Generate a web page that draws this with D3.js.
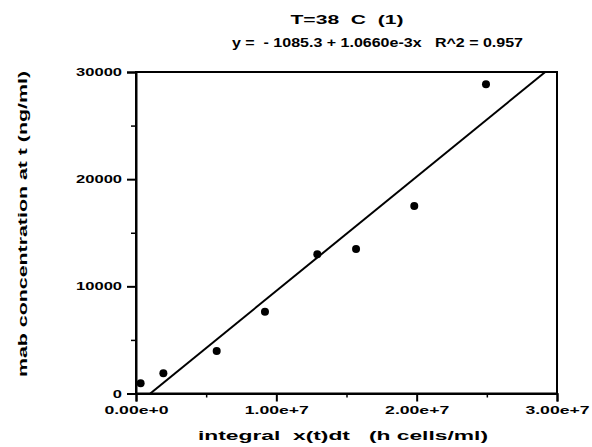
<!DOCTYPE html>
<html>
<head>
<meta charset="utf-8">
<script src="https://cdn.jsdelivr.net/npm/d3@7"></script>
<style>
html,body{margin:0;padding:0;background:#fff;}
svg{display:block;}
text{font-family:"Liberation Sans",Arial,Helvetica,sans-serif;fill:#000;white-space:pre;}
</style>
</head>
<body>
<svg id="chart" width="592" height="447"></svg>
<script>
// Data
const xValues = [0.33e6, 1.95e6, 5.75e6, 9.19e6, 12.92e6, 15.68e6, 19.83e6, 24.94e6];
const yValues = [950, 1885, 3966, 7633, 12989, 13484, 17496, 28852];
const fitIntercept = -1085.3;
const fitSlope = 1.0660e-3;
const xTickValues = [0, 1e7, 2e7, 3e7];
const xTickLabels = ["0.00e+0", "1.00e+7", "2.00e+7", "3.00e+7"];
const xMinorTicks = [5e6, 1.5e7, 2.5e7];
const yTickValues = [0, 10000, 20000, 30000];
const yTickLabels = ["0", "10000", "20000", "30000"];
const yMinorTicks = [5000, 15000, 25000];
const titleText = "T=38  C  (1)";
const subtitleText = "y =  - 1085.3 + 1.0660e-3x   R^2 = 0.957";
const xTitle = "integral  x(t)dt   (h cells/ml)";
const yTitle = "mab concentration at t (ng/ml)";

(function () {
const svg = d3.select("#chart");
const pL = 136, pR = 557, pT = 72, pB = 393.5;
const x = d3.scaleLinear().domain([0, 3e7]).range([pL, pR]);
const y = d3.scaleLinear().domain([0, 30000]).range([pB, pT]);

function stretch(sel, f) {
  sel.each(function () {
    const w = this.getComputedTextLength();
    d3.select(this).attr("textLength", w * f).attr("lengthAdjust", "spacingAndGlyphs");
  });
}

svg.append("defs").append("clipPath").attr("id", "clip")
  .append("rect").attr("x", pL).attr("y", pT).attr("width", pR - pL).attr("height", pB - pT);

// frame
svg.append("rect").attr("x", pL).attr("y", pT).attr("width", pR - pL).attr("height", pB - pT)
  .attr("fill", "none").attr("stroke", "#000").attr("stroke-width", 2);

// x axis
const xAxis = d3.axisBottom(x).tickValues(xTickValues)
  .tickFormat((d, i) => xTickLabels[i]).tickSize(8).tickPadding(5);
const gx = svg.append("g").attr("transform", `translate(0,${pB})`).call(xAxis);
gx.select(".domain").attr("stroke-width", 2);
gx.selectAll(".tick line").attr("stroke-width", 2);
gx.selectAll(".tick text").attr("font-size", 11).attr("font-weight", "bold");
gx.attr("font-family", null);
stretch(gx.selectAll(".tick text"), 1.6);
const gxm = svg.append("g").attr("transform", `translate(0,${pB})`)
  .call(d3.axisBottom(x).tickValues(xMinorTicks).tickSize(4).tickFormat(""));
gxm.select(".domain").remove();
gxm.selectAll(".tick line").attr("stroke-width", 1.5);

// y axis
const yAxis = d3.axisLeft(y).tickValues(yTickValues)
  .tickFormat((d, i) => yTickLabels[i]).tickSize(9).tickPadding(5);
const gy = svg.append("g").attr("transform", `translate(${pL},0)`).call(yAxis);
gy.select(".domain").attr("stroke-width", 2);
gy.selectAll(".tick line").attr("stroke-width", 2);
gy.selectAll(".tick text").attr("font-size", 11).attr("font-weight", "bold");
gy.attr("font-family", null);
stretch(gy.selectAll(".tick text"), 1.5);
const gym = svg.append("g").attr("transform", `translate(${pL},0)`)
  .call(d3.axisLeft(y).tickValues(yMinorTicks).tickSize(5).tickFormat(""));
gym.select(".domain").remove();
gym.selectAll(".tick line").attr("stroke-width", 1.5);

// fit line
const xStart = (0 - fitIntercept) / fitSlope;
const xEnd = (30000 - fitIntercept) / fitSlope;
svg.append("line").attr("clip-path", "url(#clip)")
  .attr("x1", x(xStart)).attr("y1", y(fitIntercept + fitSlope * xStart))
  .attr("x2", x(xEnd)).attr("y2", y(fitIntercept + fitSlope * xEnd))
  .attr("stroke", "#000").attr("stroke-width", 2);

// points
svg.append("g").selectAll("circle").data(xValues).join("circle")
  .attr("cx", d => x(d)).attr("cy", (d, i) => y(yValues[i]))
  .attr("r", 4).attr("fill", "#000");

// titles
svg.append("text").attr("x", 347).attr("y", 24).attr("text-anchor", "middle")
  .attr("font-size", 12).attr("font-weight", "bold")
  .attr("textLength", 113).attr("lengthAdjust", "spacingAndGlyphs").text(titleText);
svg.append("text").attr("x", 377.5).attr("y", 47).attr("text-anchor", "middle")
  .attr("font-size", 12).attr("font-weight", "bold")
  .attr("textLength", 291).attr("lengthAdjust", "spacingAndGlyphs").text(subtitleText);
svg.append("text").attr("x", 343).attr("y", 440).attr("text-anchor", "middle")
  .attr("font-size", 13).attr("font-weight", "bold")
  .attr("textLength", 290).attr("lengthAdjust", "spacingAndGlyphs").text(xTitle);
svg.append("text").attr("transform", "translate(27,224) rotate(-90)").attr("text-anchor", "middle")
  .attr("font-size", 13).attr("font-weight", "bold")
  .attr("textLength", 306).attr("lengthAdjust", "spacingAndGlyphs").text(yTitle);
})();
</script>
</body>
</html>
